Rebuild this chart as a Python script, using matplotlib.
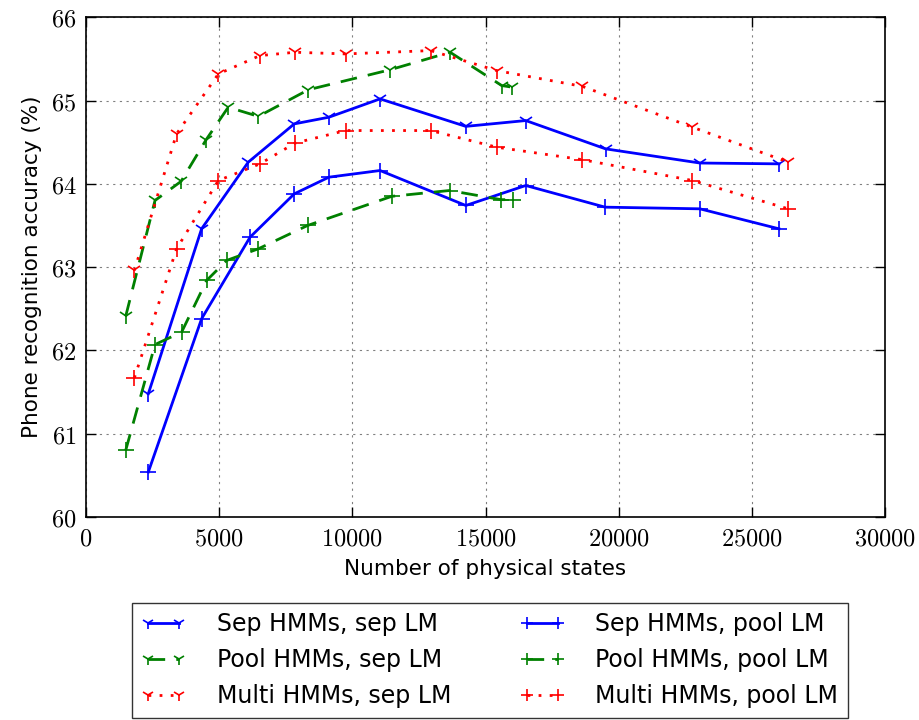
import matplotlib
matplotlib.use('Agg')
import matplotlib.pyplot as plt
from matplotlib.ticker import FuncFormatter

plt.rcParams['mathtext.fontset'] = 'cm'
plt.rcParams['font.family'] = ['DejaVu Sans']

# 数据
x_sep_sep = [2340, 4340, 6090, 7820, 9120, 11040, 14260, 16510, 19510, 23050, 26020]
y_sep_sep = [61.48, 63.46, 64.26, 64.72, 64.80, 65.02, 64.69, 64.76, 64.42, 64.25, 64.24]

x_sep_pool = [2340, 4340, 6160, 7820, 9120, 11040, 14260, 16510, 19490, 23050, 26020]
y_sep_pool = [60.54, 62.38, 63.36, 63.88, 64.08, 64.16, 63.74, 63.98, 63.72, 63.70, 63.46]

x_pool_sep = [1490, 2590, 3570, 4510, 5340, 6470, 8350, 11420, 13670, 15610, 16010]
y_pool_sep = [62.41, 63.80, 64.03, 64.53, 64.92, 64.81, 65.13, 65.37, 65.58, 65.18, 65.16]

x_pool_pool = [1490, 2590, 3590, 4530, 5280, 6470, 8320, 11480, 13650, 15590, 16040]
y_pool_pool = [60.80, 62.07, 62.22, 62.84, 63.08, 63.22, 63.50, 63.85, 63.92, 63.81, 63.81]

x_multi = [1815, 3400, 4970, 6530, 7850, 9750, 12940, 15420, 18640, 22770, 26370]
y_multi_sep = [62.96, 64.60, 65.32, 65.54, 65.58, 65.56, 65.60, 65.36, 65.17, 64.68, 64.26]
y_multi_pool = [61.67, 63.22, 64.04, 64.24, 64.49, 64.64, 64.64, 64.44, 64.29, 64.04, 63.70]

fig = plt.figure(figsize=(9.19, 7.2), dpi=100)
ax = fig.add_axes([0.0936, 0.282, 0.8694, 0.694])

ms = 11
ax.plot(x_sep_sep, y_sep_sep, color='blue', linestyle='-', linewidth=2,
        marker='1', markersize=ms, markeredgewidth=1.2, label='Sep HMMs, sep LM')
ax.plot(x_pool_sep, y_pool_sep, color='green', linestyle=(0, (6, 4)), linewidth=2,
        marker='1', markersize=ms, markeredgewidth=1.2, label='Pool HMMs, sep LM')
ax.plot(x_multi, y_multi_sep, color='red', linestyle=(0, (1, 3)), linewidth=2,
        marker='1', markersize=ms, markeredgewidth=1.2, label='Multi HMMs, sep LM')
ax.plot(x_sep_pool, y_sep_pool, color='blue', linestyle='-', linewidth=2,
        marker='+', markersize=ms, markeredgewidth=1.2, label='Sep HMMs, pool LM')
ax.plot(x_pool_pool, y_pool_pool, color='green', linestyle=(0, (6, 4)), linewidth=2,
        marker='+', markersize=ms, markeredgewidth=1.2, label='Pool HMMs, pool LM')
ax.plot(x_multi, y_multi_pool, color='red', linestyle=(0, (1, 3)), linewidth=2,
        marker='+', markersize=ms, markeredgewidth=1.2, label='Multi HMMs, pool LM')

ax.set_xlim(0, 30000)
ax.set_ylim(60, 66)
ax.set_xticks(range(0, 30001, 5000))
ax.set_yticks(range(60, 67))
ax.xaxis.set_major_formatter(FuncFormatter(lambda v, p: r'$%d$' % v))
ax.yaxis.set_major_formatter(FuncFormatter(lambda v, p: r'$%d$' % v))
ax.tick_params(direction='in', top=True, right=True, labelsize=17.5, length=7, width=1)
ax.tick_params(axis='y', pad=7)
ax.tick_params(axis='x', pad=7)
ax.grid(True, color='gray', linestyle=(0, (2, 4)), linewidth=0.8)
for s in ax.spines.values():
    s.set_linewidth(1.2)

ax.set_xlabel('Number of physical states', fontsize=15.5, labelpad=6)
ax.set_ylabel('Phone recognition accuracy (%)', fontsize=15.5, labelpad=6)

leg = fig.legend(loc='lower center', bbox_to_anchor=(0.533, -0.013), ncol=2, numpoints=2,
                 fontsize=17, frameon=True, fancybox=False, edgecolor='black',
                 handlelength=1.9, handletextpad=1.3, columnspacing=2.9,
                 borderpad=0.4, markerscale=0.8, labelspacing=0.5)
leg.get_frame().set_linewidth(1.0)

fig.savefig('out.png', dpi=100)
